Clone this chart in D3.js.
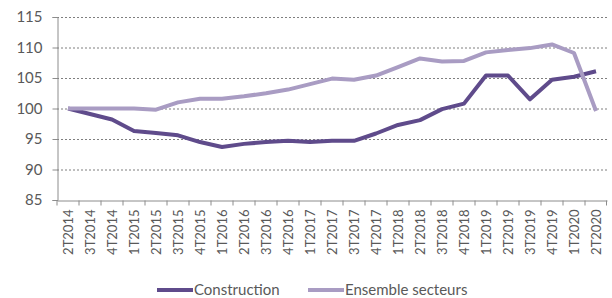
<!DOCTYPE html>
<html><head><meta charset="utf-8">
<script src="https://cdn.jsdelivr.net/npm/d3@7"></script>
<style>
body{margin:0;background:#fff;}
text{font-family:Lato,"Open Sans",sans-serif;fill:#595959;}
</style></head>
<body><svg id="c" width="612" height="298"></svg>
<script>
const categories = ["2T2014","3T2014","4T2014","1T2015","2T2015","3T2015","4T2015","1T2016","2T2016","3T2016","4T2016","1T2017","2T2017","3T2017","4T2017","1T2018","2T2018","3T2018","4T2018","1T2019","2T2019","3T2019","4T2019","1T2020","2T2020"];
const construction = [100,99.1,98.2,96.3,96.0,95.6,94.5,93.7,94.2,94.5,94.7,94.5,94.7,94.7,95.9,97.3,98.1,99.9,100.8,105.4,105.4,101.5,104.7,105.2,106.1];
const ensemble = [100,100,100,100,99.8,101.0,101.6,101.6,102.0,102.5,103.1,104.0,104.9,104.7,105.4,106.8,108.2,107.7,107.8,109.2,109.6,109.9,110.5,109.1,99.6];
const yTicks = [85,90,95,100,105,110,115];
const seriesNames = ["Construction","Ensemble secteurs"];
const colors = ["#5f4b8b","#a99cc3"];

const svg = d3.select("#c");
const x = d3.scaleBand().domain(categories).range([57,607]);
const y = d3.scaleLinear().domain([85,115]).range([200,17]);

// gridlines
svg.append("g").selectAll("line").data(yTicks.filter(d=>d>85)).join("line")
  .attr("x1",57).attr("x2",607).attr("y1",d=>y(d)+0.5).attr("y2",d=>y(d)+0.5)
  .attr("stroke","#7f7f7f").attr("stroke-width",1).attr("stroke-dasharray","2,2");

// y axis
const ya = svg.append("g").attr("transform","translate(57.5,0)")
  .call(d3.axisLeft(y).tickValues(yTicks).tickSize(5).tickPadding(10));
ya.select(".domain").attr("stroke","#8c8c8c");
ya.selectAll(".tick line").attr("stroke","#8c8c8c");
ya.selectAll("text").attr("font-size",15).attr("font-family","Lato, sans-serif").attr("fill","#595959");

// x axis
const xa = svg.append("g").attr("transform","translate(0,200.5)")
  .call(d3.axisBottom(x).tickSize(5).tickPadding(0).tickSizeOuter(0));
xa.select(".domain").attr("stroke","#8c8c8c");
// ticks at band edges
xa.selectAll(".tick line").attr("stroke","#8c8c8c").attr("x1",-x.bandwidth()/2).attr("x2",-x.bandwidth()/2);
svg.append("line").attr("x1",606.5).attr("x2",606.5).attr("y1",200.5).attr("y2",205.5).attr("stroke","#8c8c8c");
xa.selectAll("text").attr("font-size",13).attr("font-family","Lato, sans-serif").attr("fill","#595959")
  .attr("transform","rotate(-90)").attr("text-anchor","end").attr("dy","0.35em").attr("x",-9).attr("y",0);

const line = d3.line().x((d,i)=>x(categories[i])+x.bandwidth()/2).y(d=>y(d));
[construction,ensemble].forEach((s,k)=>{
  svg.append("path").datum(s).attr("d",line).attr("fill","none")
    .attr("stroke",colors[k]).attr("stroke-width",4).attr("stroke-linejoin","round");
});
// draw construction on top? ensemble over construction at crossing
// legend
const leg = [{x:157,name:seriesNames[0],c:colors[0]},{x:308,name:seriesNames[1],c:colors[1]}];
leg.forEach(l=>{
  svg.append("line").attr("x1",l.x).attr("x2",l.x+36).attr("y1",290).attr("y2",290).attr("stroke",l.c).attr("stroke-width",4);
  svg.append("text").attr("x",l.x+37).attr("y",290).attr("dy","0.35em").attr("font-size",15).text(l.name);
});
</script></body></html>
